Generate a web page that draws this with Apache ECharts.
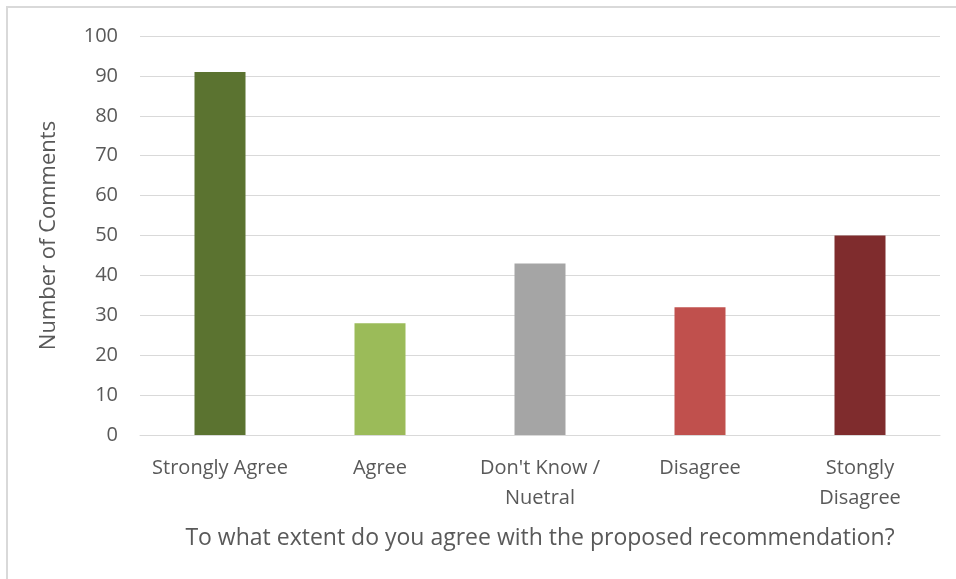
<!DOCTYPE html>
<html><head><meta charset="utf-8">
<script src="https://cdn.jsdelivr.net/npm/echarts@6/dist/echarts.min.js"></script>
<style>html,body{margin:0;padding:0;background:#fff}#c{width:956px;height:579px}</style>
</head><body><div id="c"></div>
<script>
const categories = ["Strongly Agree", "Agree", "Don't Know /\nNuetral", "Disagree", "Stongly\nDisagree"];
const values = [91, 28, 43, 32, 50];
const colors = ["#5B7330", "#9BBB59", "#A5A5A5", "#C0504D", "#7F2C2D"];
const yTitle = "Number of Comments";
const xTitle = "To what extent do you agree with the proposed recommendation?";
const font = "'Open Sans', 'Noto Sans', sans-serif";
const chart = echarts.init(document.getElementById('c'));
chart.setOption({
  animation: false,
  graphic: [{type: 'rect', shape: {x: 7, y: 7, width: 1000, height: 1000}, style: {fill: 'none', stroke: '#D9D9D9', lineWidth: 2}, z: -1}],
  grid: {left: 140, right: 16, top: 36, bottom: 144},
  xAxis: {
    type: 'category', data: categories,
    axisLine: {lineStyle: {color: '#D9D9D9', width: 1}},
    axisTick: {show: false},
    axisLabel: {color: '#595959', fontSize: 20, fontFamily: font, margin: 18, lineHeight: 30, interval: 0},
    name: xTitle, nameLocation: 'middle', nameGap: 92,
    nameTextStyle: {color: '#595959', fontSize: 23, fontFamily: font}
  },
  yAxis: {
    type: 'value', min: 0, max: 100, interval: 10,
    axisLine: {show: false}, axisTick: {show: false},
    splitLine: {lineStyle: {color: '#D9D9D9', width: 1}},
    axisLabel: {color: '#595959', fontSize: 20, fontFamily: font, margin: 22},
    name: yTitle, nameLocation: 'middle', nameGap: 80, nameRotate: 90,
    nameTextStyle: {color: '#595959', fontSize: 22, fontFamily: font}
  },
  series: [{
    type: 'bar', barWidth: 51,
    data: values.map((v, i) => ({value: v, itemStyle: {color: colors[i]}}))
  }]
});
</script></body></html>
